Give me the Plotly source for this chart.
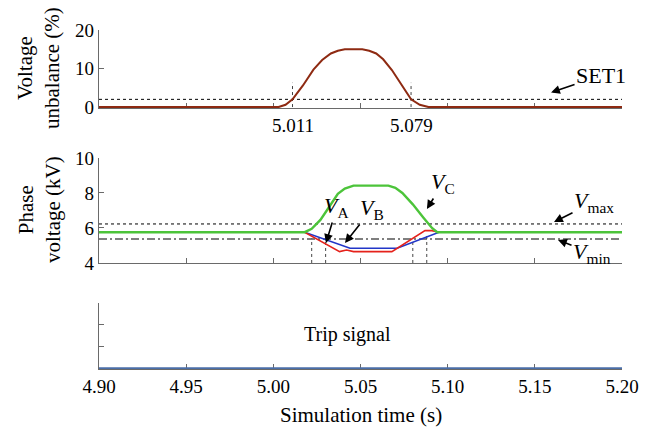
import plotly.graph_objects as go

# ---------------- data ----------------
# top panel: voltage unbalance (%)
time_unb = [4.90, 5.003, 5.007, 5.011, 5.017, 5.023, 5.028, 5.033, 5.037, 5.041,
            5.051, 5.055, 5.059, 5.063, 5.068, 5.073, 5.079, 5.084, 5.089, 5.20]
unbalance = [0, 0, 0.6, 2.0, 5.6, 9.7, 12.2, 13.9, 14.6, 15.0,
             15.0, 14.6, 13.9, 12.4, 9.6, 6.3, 2.0, 0.6, 0, 0]
set1_level = 2.0
unb_cross_times = [5.011, 5.079]
unb_cross_labels = ["5.011", "5.079"]
unb_cross_top = 6.3

# middle panel: phase voltages (kV)
time_vc = [4.90, 5.018, 5.022, 5.027, 5.032, 5.037, 5.041, 5.046, 5.066, 5.070,
           5.074, 5.080, 5.086, 5.091, 5.094, 5.20]
v_c = [5.76, 5.76, 5.95, 6.46, 7.2, 7.95, 8.25, 8.42, 8.42, 8.3,
       8.0, 7.35, 6.6, 6.0, 5.76, 5.76]
time_va = [4.90, 5.018, 5.044, 5.071, 5.095, 5.20]
v_a = [5.76, 5.76, 4.84, 4.84, 5.76, 5.76]
time_vb = [4.90, 5.018, 5.038, 5.042, 5.046, 5.068, 5.087, 5.091, 5.095, 5.20]
v_b = [5.76, 5.76, 4.65, 4.74, 4.65, 4.65, 5.85, 5.85, 5.76, 5.76]
v_max = 6.23
v_min = 5.37
phase_mark_times = [5.022, 5.030, 5.080, 5.088]
phase_mark_tops = [5.4, 5.3, 5.3, 5.7]

# bottom panel: trip signal
time_trip = [4.90, 5.20]
trip = [0, 0]

x_range = [4.90, 5.20]
x_ticks = [4.90, 4.95, 5.00, 5.05, 5.10, 5.15, 5.20]

# ---------------- figure ----------------
FONT = "Liberation Serif, Times New Roman, DejaVu Serif, serif"
AX = "#6a6a6a"
fig = go.Figure()

# top panel
fig.add_trace(go.Scatter(x=x_range, y=[set1_level, set1_level], mode="lines",
                         line=dict(color="black", width=1, dash="dot"),
                         xaxis="x", yaxis="y", showlegend=False))
vx, vy = [], []
for t in unb_cross_times:
    vx += [t, t, None]
    vy += [0, unb_cross_top, None]
fig.add_trace(go.Scatter(x=vx, y=vy, mode="lines",
                         line=dict(color="#444", width=1, dash="dot"),
                         xaxis="x", yaxis="y", showlegend=False))
fig.add_trace(go.Scatter(x=time_unb, y=unbalance, mode="lines",
                         line=dict(color="#8e2a12", width=2),
                         xaxis="x", yaxis="y", showlegend=False))

# middle panel
fig.add_trace(go.Scatter(x=x_range, y=[v_max, v_max], mode="lines",
                         line=dict(color="black", width=1, dash="dot"),
                         xaxis="x2", yaxis="y2", showlegend=False))
fig.add_trace(go.Scatter(x=x_range, y=[v_min, v_min], mode="lines",
                         line=dict(color="black", width=1.2,
                                   dash="8px,3px,2px,3px"),
                         xaxis="x2", yaxis="y2", showlegend=False))
mx, my = [], []
for t, top in zip(phase_mark_times, phase_mark_tops):
    mx += [t, t, None]
    my += [4, top, None]
fig.add_trace(go.Scatter(x=mx, y=my, mode="lines",
                         line=dict(color="#444", width=1, dash="dot"),
                         xaxis="x2", yaxis="y2", showlegend=False))
fig.add_trace(go.Scatter(x=time_va, y=v_a, mode="lines",
                         line=dict(color="#2236c8", width=1.6),
                         xaxis="x2", yaxis="y2", showlegend=False))
fig.add_trace(go.Scatter(x=time_vb, y=v_b, mode="lines",
                         line=dict(color="#e5221b", width=1.6),
                         xaxis="x2", yaxis="y2", showlegend=False))
fig.add_trace(go.Scatter(x=time_vc, y=v_c, mode="lines",
                         line=dict(color="#4cc43a", width=2.4),
                         xaxis="x2", yaxis="y2", showlegend=False))

# bottom panel
fig.add_trace(go.Scatter(x=time_trip, y=trip, mode="lines",
                         line=dict(color="#4a6ea8", width=2),
                         xaxis="x3", yaxis="y3", showlegend=False))

tickfont = dict(family=FONT, size=19, color="black")


def xax(anchor, labels):
    return dict(domain=[0, 1], range=x_range, anchor=anchor, tickvals=x_ticks,
                tickformat=".2f", ticks="inside", ticklen=5, tickcolor=AX,
                showline=True, linecolor=AX, linewidth=1.2, showgrid=False,
                zeroline=False, showticklabels=labels, tickfont=tickfont,
                layer="below traces", automargin=False)


def yax(anchor, dom, rng, tv, labels):
    return dict(domain=dom, range=rng, anchor=anchor, tickvals=tv,
                ticks="inside", ticklen=5, tickcolor=AX, showline=True,
                linecolor=AX, linewidth=1.2, showgrid=False, zeroline=False,
                showticklabels=labels, tickfont=tickfont, layer="below traces",
                automargin=False)


# the page body adds an 8 px offset; the figure is sized to fit inside it
fig.update_layout(
    template="none",
    width=646, height=423,
    margin=dict(l=91, r=32, t=2, b=50, autoexpand=False),
    paper_bgcolor="white", plot_bgcolor="white",
    font=dict(family=FONT, color="black", size=19),
    xaxis=xax("y", False),
    xaxis2=xax("y2", False),
    xaxis3=xax("y3", True),
    yaxis=yax("x", [0.7358, 0.9461], [-0.25, 20], [0, 10, 20], True),
    yaxis2=yax("x2", [0.3181, 0.6011], [4, 10], [4, 6, 8, 10], True),
    yaxis3=yax("x3", [0.0323, 0.2102], [-0.03, 3], [0, 1, 2, 3], False),
)

ann = []
ctr = dict(xanchor="center", yanchor="middle", showarrow=False)
# axis titles
ann.append(dict(text="Voltage<br>unbalance (%)", xref="paper", yref="paper",
                x=-0.1147, y=0.8437, textangle=-90,
                font=dict(family=FONT, size=21), **ctr))
ann.append(dict(text="Phase<br>voltage (kV)", xref="paper", yref="paper",
                x=-0.1147, y=0.4609, textangle=-90,
                font=dict(family=FONT, size=21), **ctr))
ann.append(dict(text="Simulation time (s)", xref="paper", yref="paper",
                x=0.501, y=-0.0916, font=dict(family=FONT, size=21), **ctr))
# crossing time labels
for t, lab in zip(unb_cross_times, unb_cross_labels):
    ann.append(dict(text=lab, xref="x", yref="paper", x=t, y=0.690,
                    font=dict(family=FONT, size=19), **ctr))
# trip signal text
ann.append(dict(text="Trip signal", xref="x3", yref="y3", x=5.0428, y=1.545,
                font=dict(family=FONT, size=20), **ctr))

# arrow labels: (text, xref, yref, head x, head y, ax, ay)
arrow_labels = [
    ("SET1", "x", "y", 5.1593, 3.8, 50, -17),
    ("<i>V</i><sub>A</sub>", "x2", "y2", 5.0302, 5.143, 11, -36),
    ("<i>V</i><sub>B</sub>", "x2", "y2", 5.0411, 5.143, 27, -34),
    ("<i>V</i><sub>C</sub>", "x2", "y2", 5.0881, 7.086, 16, -26),
    ("<i>V</i><sub>max</sub>", "x2", "y2", 5.161, 6.343, 40, -20),
    ("<i>V</i><sub>min</sub>", "x2", "y2", 5.1633, 5.314, 34, 13),
]
for txt, xr, yr, hx, hy, axp, ayp in arrow_labels:
    ann.append(dict(text=txt, xref=xr, yref=yr, x=hx, y=hy, ax=axp, ay=ayp,
                    showarrow=True, arrowhead=2, arrowsize=1.1, arrowwidth=1.6,
                    arrowcolor="black", font=dict(family=FONT, size=22)))

fig.update_layout(annotations=ann)
fig.write_html("out.html")
